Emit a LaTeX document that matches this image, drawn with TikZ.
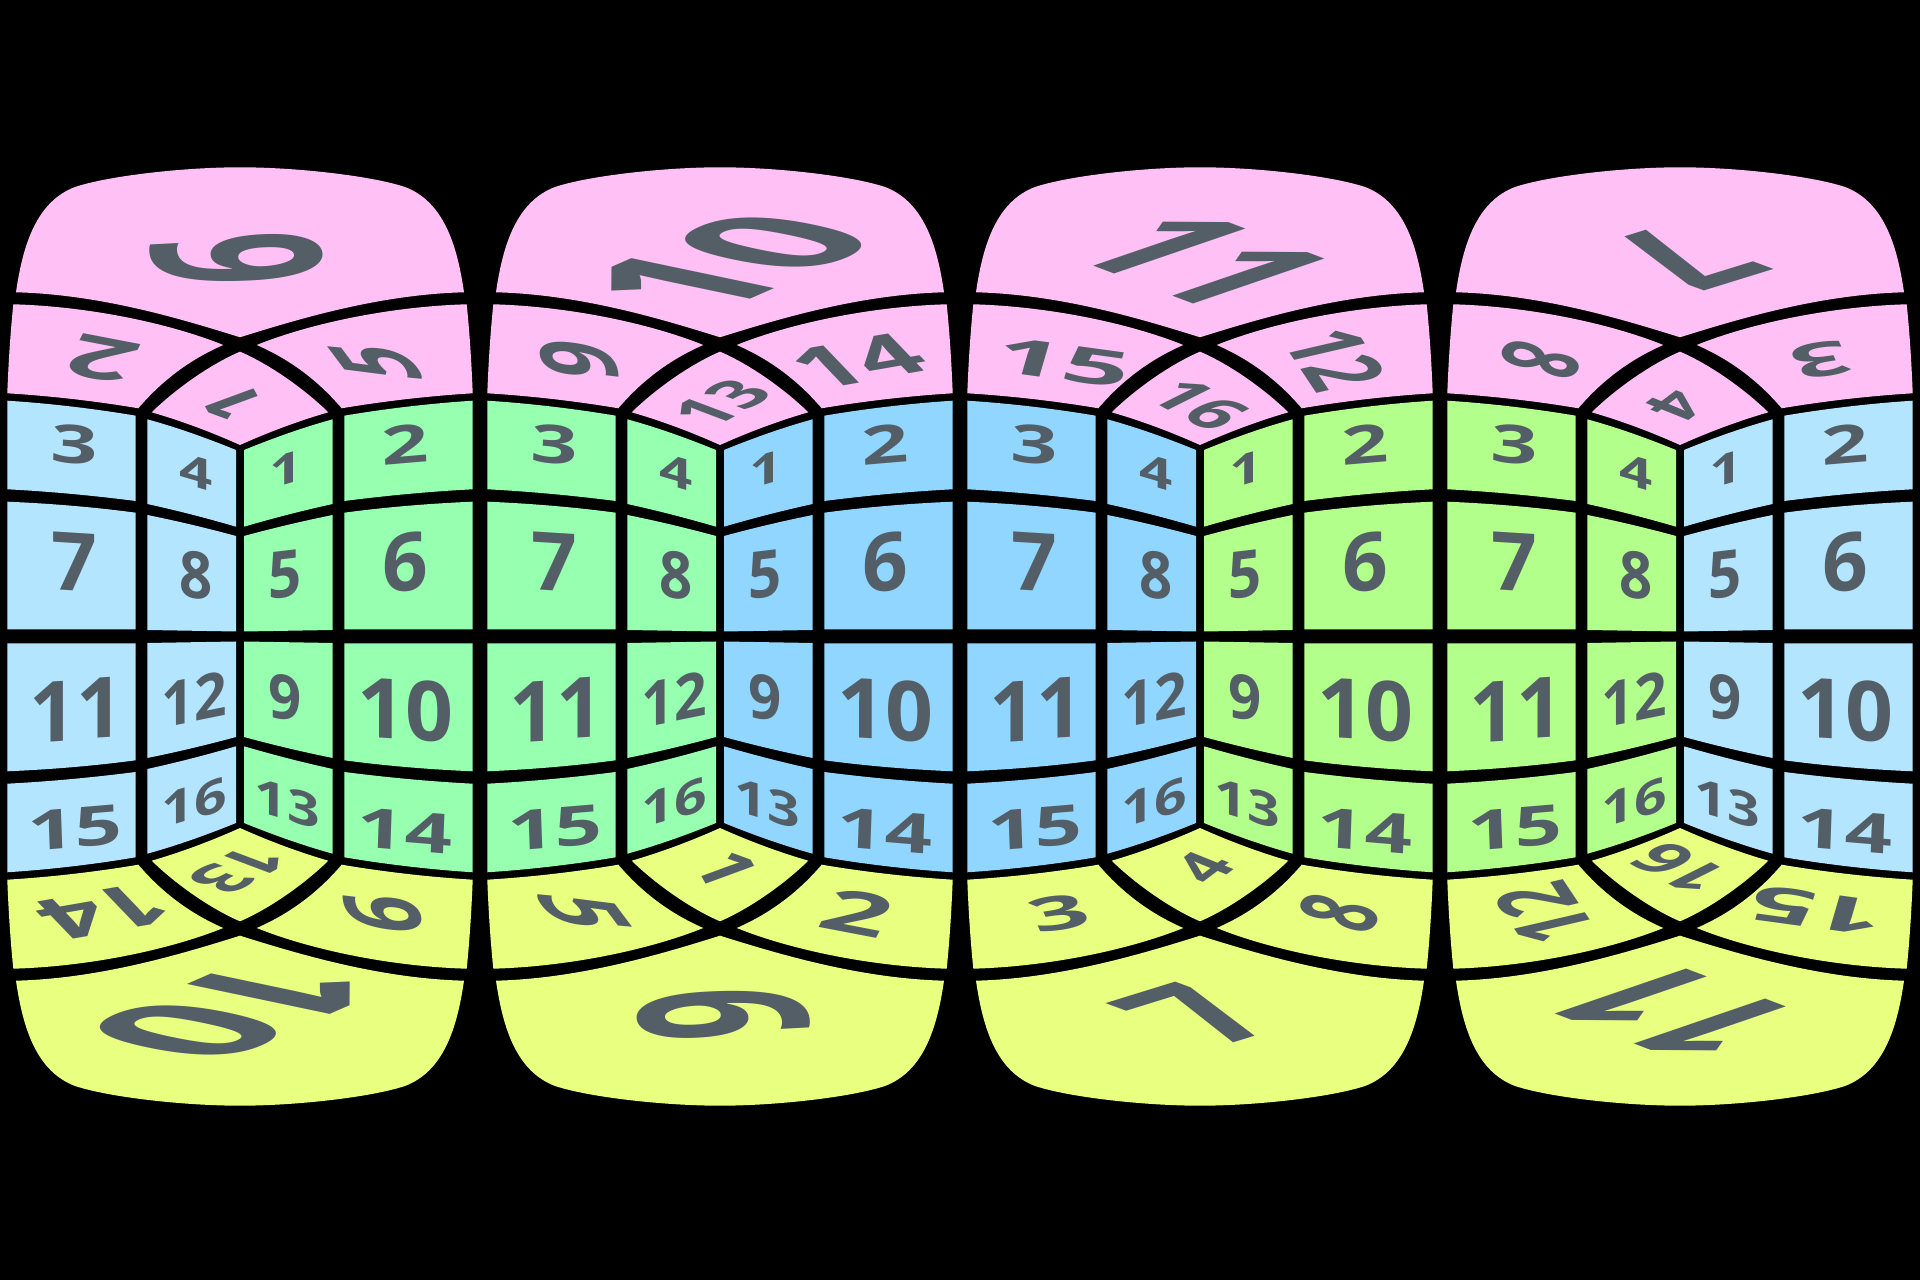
\documentclass[tikz,border=0pt]{standalone}
\usepackage{fontspec}
\setmainfont{Open Sans}

\definecolor{ringtop}{HTML}{FFC0F5}
\definecolor{ringbottom}{HTML}{E8FF80}
\definecolor{skyblue}{HTML}{B3E5FF}
\definecolor{midblue}{HTML}{91D6FF}
\definecolor{mint}{HTML}{96FFB0}
\definecolor{lime}{HTML}{B3FF8C}
\definecolor{numgray}{HTML}{545E66}

\tikzset{
  numlabel/.style={transform shape,inner sep=0pt,text=numgray,
    font=\bfseries\fontsize{100}{100}\selectfont}
}

% cap, middle cell and the two side cells of one ring
\newcommand{\capring}[1]{
  \fill[#1] (-224,344.2) .. controls (-217,393) and (-203,435) .. (-165,449.5)
    .. controls (-130,461) and (-55,469.2) .. (0,469.2)
    .. controls (55,469.2) and (130,461) .. (165,449.5)
    .. controls (203,435) and (217,393) .. (224,344.2)
    .. controls (140,342) and (60,318) .. (0,299.2)
    .. controls (-60,318) and (-140,342) .. (-224,344.2) -- cycle;
  \fill[#1] (-88.3,224.2) .. controls (-65,247) and (-30,272) .. (0,284.8)
    .. controls (30,272) and (65,247) .. (88.3,224.2)
    .. controls (60,216) and (30,205) .. (0,191.5)
    .. controls (-30,205) and (-60,216) .. (-88.3,224.2) -- cycle;
  \foreach \sx in {-1,1} {
    \fill[#1,xscale=\sx] (-226.7,332.2) .. controls (-150,330) and (-70,313) .. (-16.7,291.5)
      .. controls (-50,277) and (-78,256) .. (-101.7,228.2)
      .. controls (-145,235.5) and (-189,240.5) .. (-232.7,243.2)
      .. controls (-231.5,275) and (-229.5,305) .. (-226.7,332.2) -- cycle;
  }
}

% the eight grid cells of one side
\newcommand{\gridside}[2]{
  \foreach \sy in {-1,1} {
    \begin{scope}[xscale=#2,yscale=\sy]
      \fill[#1] (-232.7,235.8) .. controls (-190,233) and (-147,228) .. (-104.3,220.8)
        -- (-104.3,135.5) .. controls (-147.5,141) and (-190,145) .. (-232.7,147.2) -- cycle;
      \fill[#1] (-232.7,134.8) .. controls (-190,133) and (-147,129.5) .. (-104.3,123.8)
        -- (-104.3,7) -- (-232.7,7) -- cycle;
      \fill[#1] (-92.7,217.2) .. controls (-63,209) and (-33.5,198.5) .. (-4,186.5)
        -- (-4,109.8) .. controls (-33.5,118.4) and (-63,126) .. (-92.7,132.5) -- cycle;
      \fill[#1] (-92.7,121.5) .. controls (-63,115.5) and (-33.5,108.5) .. (-4,100.5)
        -- (-4,5) -- (-92.7,6.5) -- cycle;
    \end{scope}
  }
}

% labels of the grid, the same on every tile
\newcommand{\gridlabels}{
  -165/192/.82/-.07/.02/.53/3, -166/74.5/.8/-.05/0/.81/7,
  -164/-73.5/.82/.055/0/.84/11, -165/-192/.83/.07/-.02/.55/15,
  -44/164/.58/-.17/0/.43/4, -44/61.5/.58/-.07/0/.65/8,
  -46/-63/.57/.115/0/.62/12, -46/-166/.57/.17/0/.47/16,
  46/167/.58/.17/0/.43/1, 45/62/.58/.07/0/.65/5,
  45/-61/.58/-.115/0/.62/9, 47/-167/.57/-.17/0/.47/13,
  165/192/.82/.07/-.02/.53/2, 165/74.5/.8/.05/0/.81/6,
  165.5/-73.5/.84/-.055/0/.83/10, 165/-194/.83/-.07/.02/.55/14}

% x centre, left colour, right colour, tile name, ring labels
\newcommand{\drawtile}[5]{
  \begin{scope}[shift={(#1,643.5)}]
    \capring{ringtop}
    \begin{scope}[yscale=-1]
      \capring{ringbottom}
    \end{scope}
    \gridside{#2}{1}
    \gridside{#3}{-1}
    \foreach \u/\v/\a/\b/\c/\d/\t in \gridlabels {
      \node[numlabel,shift={(\u,\v)},cm={\a,\b,\c,\d,(0,0)}] (#4g\t) {\t};
    }
    \foreach \u/\v/\a/\b/\c/\d/\t in {#5} {
      \node[numlabel,shift={(\u,\v)},cm={\a,\b,\c,\d,(0,0)}] (#4r\t) {\t};
    }
  \end{scope}
}

\begin{document}
\begin{tikzpicture}[x=1pt,y=1pt]

  % black ground, fixes the page
  \fill[black] (0,0) rectangle (1920,1280);
  \useasboundingbox (0,0) rectangle (1920,1280);

  \drawtile{240}{skyblue}{mint}{a}{
    -3/377.5/.1/-.9/2.35/.12/9, -137/277.2/-1.15/.22/-.28/-.55/2,
    136/275/-.45/.6/-1.1/.1/5, -6.3/232.8/-.28/.5/-.68/-.25/1,
    -6/-374/-1.6/-.7/2/-.42/10, -136/-275.2/-1.04/-.18/.5/-.52/14,
    143/-276.8/.12/-.65/1.05/-.12/9, -2/-233.5/-.58/-.31/.64/-.24/13}

  \drawtile{720}{mint}{midblue}{b}{
    8/374/1.6/.7/-2/.42/10, -141.3/276.8/-.12/.65/-1.05/.12/9,
    138/275.2/1.04/.18/-.5/.52/14, 2/233.5/.58/.31/-.64/.24/13,
    3/-377.5/.1/-.9/2.35/.12/6, 137/-276/1.15/-.22/.28/.55/2,
    -136/-276/.45/-.6/1.1/-.1/5, 6.3/-232.8/.28/-.5/.68/.25/1}

  \drawtile{1200}{midblue}{lime}{c}{
    1.7/376.5/1.38/-.52/1.84/.63/11, -136.6/274.2/1.17/-.16/.14/.48/15,
    135.5/277/.32/-.48/.99/.23/12, -.6/231.5/.58/-.31/.6/.3/16,
    -1/-378/1.36/.42/-1.63/.6/7, -140.8/-277/1/.15/-.2/.45/3,
    139/-276/.25/.45/-1.02/.3/8, 4/-231/.48/.36/-.6/.24/4}

  \drawtile{1680}{lime}{skyblue}{d}{
    1/378/-1.36/-.42/1.63/-.6/7, -139/276/-.25/-.45/1.02/-.3/8,
    140.8/277/-1/-.15/.2/-.45/3, -4/231/-.48/-.36/.6/-.24/4,
    -1.7/-376.5/-1.38/.52/-1.84/-.63/11, -135.5/-277/-.32/.48/-.99/-.23/12,
    136.6/-274.2/-1.17/.16/-.14/-.48/15, .6/-231.5/-.58/.31/-.6/-.3/16}

\end{tikzpicture}
\end{document}
